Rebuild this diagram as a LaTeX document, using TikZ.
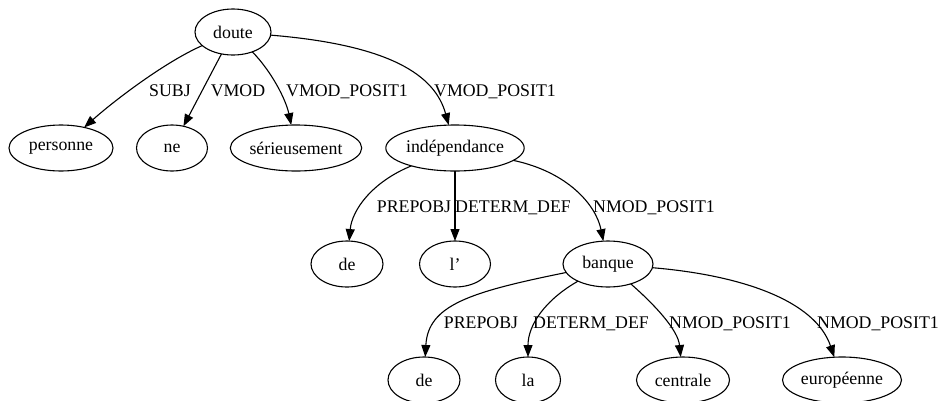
\documentclass[tikz,border=0pt]{standalone}
\usepackage{fontspec}
\setmainfont{Liberation Serif}
\usetikzlibrary{shapes.geometric,arrows.meta}
\begin{document}
\begin{tikzpicture}[x=1pt,y=-1pt,
  every node/.style={font=\fontsize{17.8pt}{20pt}\selectfont},
  word/.style={ellipse, draw, line width=1.1pt, inner sep=0pt, outer sep=0pt, minimum height=46pt},
  edge/.style={line width=1.1pt, -{Triangle[length=12pt,width=9pt]}},
  lbl/.style={anchor=base, inner sep=0pt}]
\useasboundingbox (0,0) rectangle (943,400);
% nodes
\node[word, minimum width=76pt]  (doute)    at (233,32)  {doute};
\node[word, minimum width=104pt] (personne) at (61,148)  {personne};
\node[word, minimum width=71pt]  (ne)       at (172,148) {ne};
\node[word, minimum width=130pt] (seri)     at (296,148) {sérieusement};
\node[word, minimum width=138pt] (indep)    at (455,148) {indépendance};
\node[word, minimum width=72pt]  (deA)      at (347,264) {de};
\node[word, minimum width=71pt]  (lq)       at (455,264) {l’};
\node[word, minimum width=90pt]  (banque)   at (608,264) {banque};
\node[word, minimum width=72pt]  (deB)      at (424,380) {de};
\node[word, minimum width=65pt]  (la)       at (528,380) {la};
\node[word, minimum width=93pt]  (centrale) at (683,380) {centrale};
\node[word, minimum width=119pt] (europ)    at (842,380) {européenne};
% edges
\draw[edge] (doute) .. controls (165,62) and (115,100) .. (personne);
\draw[edge] (doute) -- (ne);
\draw[edge] (doute) .. controls (272,72) and (286,100) .. (seri);
\draw[edge] (doute) .. controls (390,45) and (435,75) .. (indep);
\draw[edge] (indep) .. controls (372,182) and (352,210) .. (deA);
\draw[edge] (indep) -- (lq);
\draw[edge] (indep) .. controls (568,172) and (596,205) .. (banque);
\draw[edge] (banque) .. controls (470,292) and (428,305) .. (deB);
\draw[edge] (banque) .. controls (545,300) and (528,325) .. (la);
\draw[edge] (banque) .. controls (655,305) and (678,330) .. (centrale);
\draw[edge] (banque) .. controls (740,275) and (815,300) .. (europ);
% labels
\node[lbl] (l1)  at (170,96)  {SUBJ};
\node[lbl] (l2)  at (238,96)  {VMOD};
\node[lbl] (l3)  at (347,96)  {VMOD\_POSIT1};
\node[lbl] (l4)  at (495,96)  {VMOD\_POSIT1};
\node[lbl] (l5)  at (414,212) {PREPOBJ};
\node[lbl] (l6)  at (513,212) {DETERM\_DEF};
\node[lbl] (l7)  at (654,212) {NMOD\_POSIT1};
\node[lbl] (l8)  at (481,328) {PREPOBJ};
\node[lbl] (l9)  at (591,328) {DETERM\_DEF};
\node[lbl] (l10) at (730,328) {NMOD\_POSIT1};
\node[lbl] (l11) at (878,328) {NMOD\_POSIT1};
\end{tikzpicture}
\end{document}
